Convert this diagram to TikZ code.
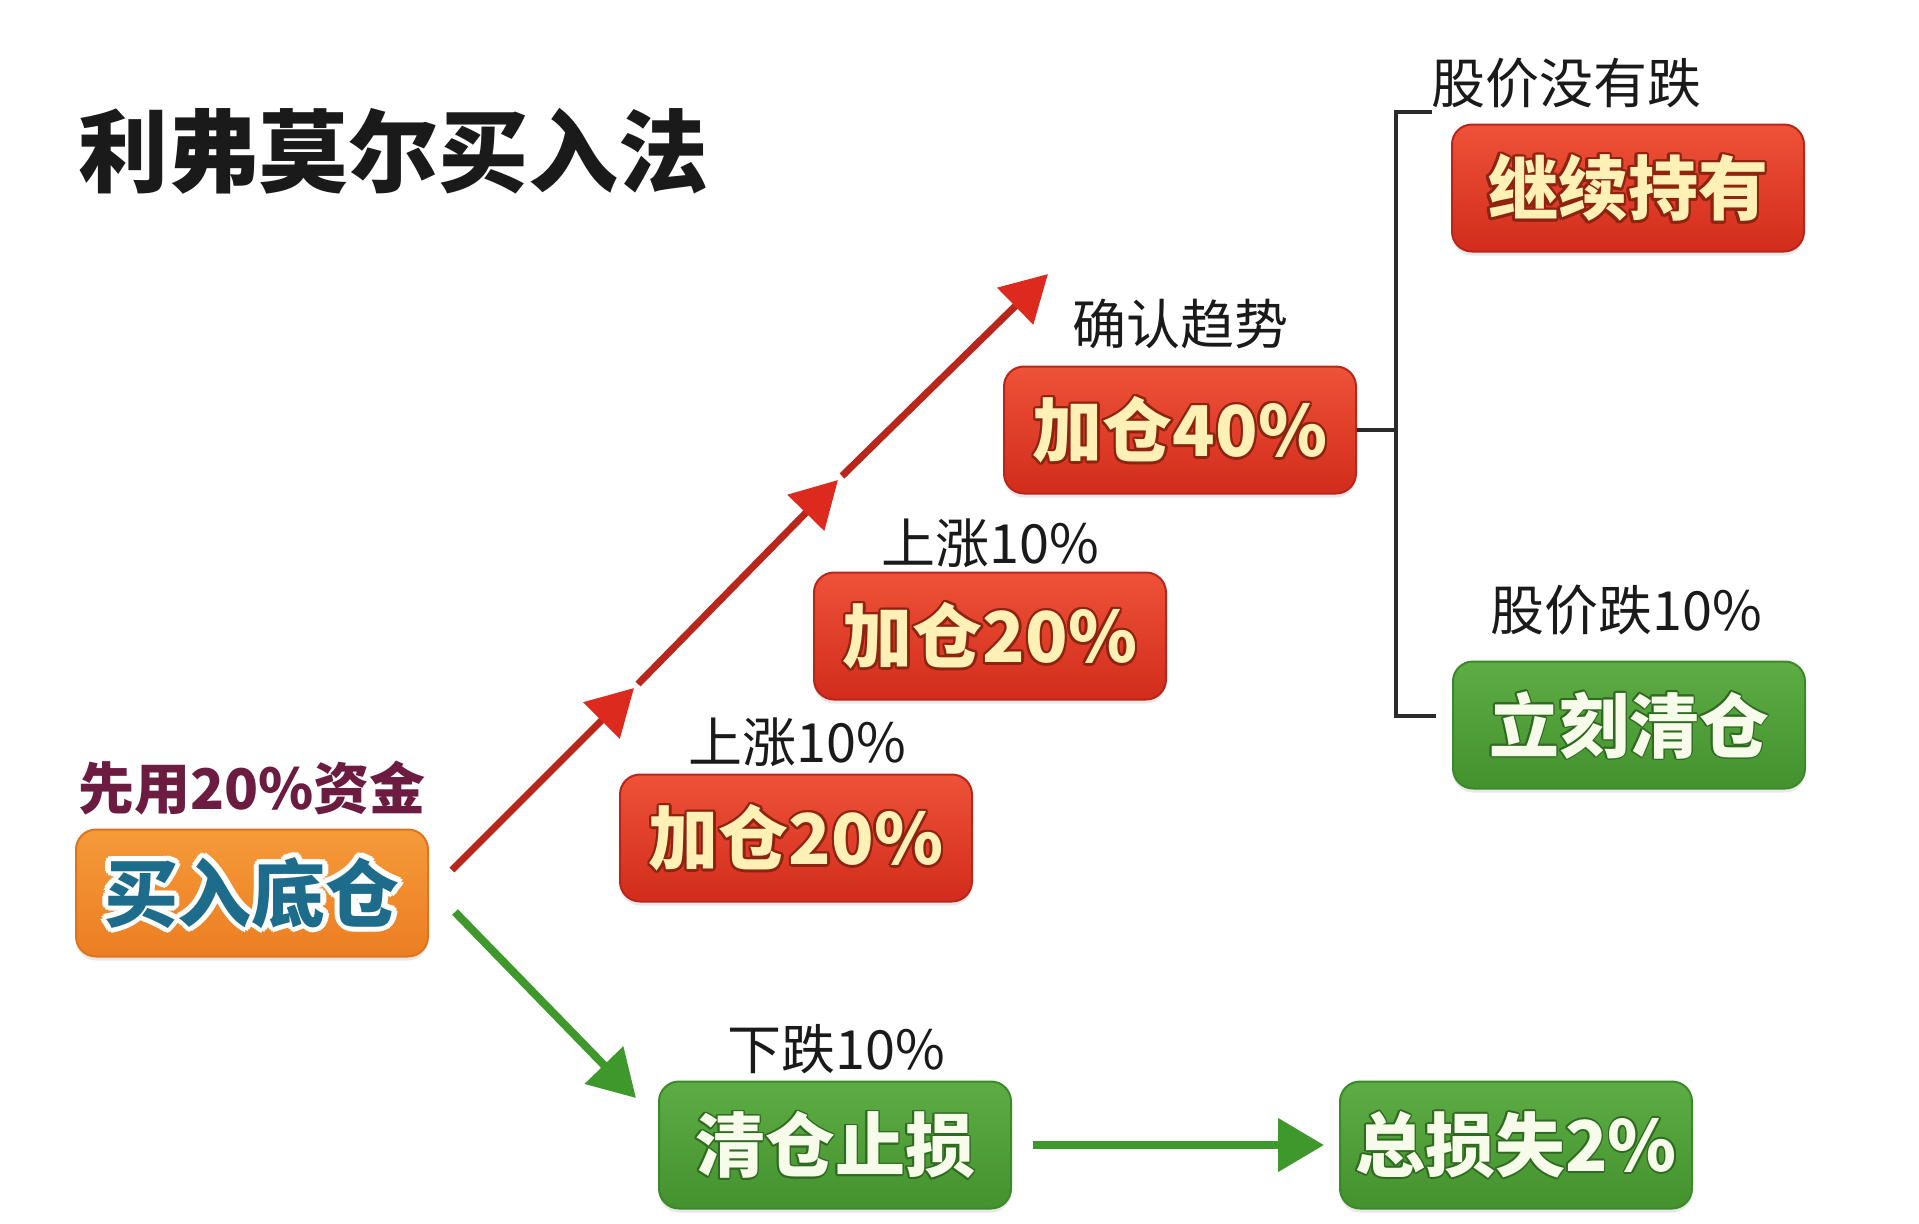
\documentclass[tikz,border=0pt]{standalone}
\usepackage{fontspec}
\newfontfamily\cjk{Noto Sans CJK SC}
\usetikzlibrary{arrows.meta,shadows}
\definecolor{boxredtop}{HTML}{EE5238}
\definecolor{boxredbot}{HTML}{D22C1C}
\definecolor{boxredline}{HTML}{B8261A}
\definecolor{cream}{HTML}{FFF1B5}
\definecolor{redshadow}{HTML}{8E2410}
\definecolor{greentop}{HTML}{5EAC44}
\definecolor{greenbot}{HTML}{44922E}
\definecolor{greenline}{HTML}{3A8A2A}
\definecolor{greenshadow}{HTML}{2E6A20}
\definecolor{greentext}{HTML}{F6FBEA}
\definecolor{orangetop}{HTML}{F59A3A}
\definecolor{orangebot}{HTML}{EC7E22}
\definecolor{orangeline}{HTML}{DE7420}
\definecolor{tealtext}{HTML}{1D6C8C}
\definecolor{maroon}{HTML}{6C1C40}
\definecolor{arrowred}{HTML}{B8261C}
\definecolor{tipred}{HTML}{DC2A1E}
\definecolor{arrowgreen}{HTML}{3E982C}
\definecolor{bracketgray}{HTML}{2A2A2A}
\definecolor{labelblack}{HTML}{1A1A1A}
% outlined text: #1 radius (pt), #2 outline colour, #3 text colour, #4 text
\newcommand\outl[4]{%
  \foreach \ang in {0,30,...,330}{%
    \pgfmathsetmacro\odx{#1*cos(\ang)}\pgfmathsetmacro\ody{#1*sin(\ang)}%
    \makebox[0pt][l]{\kern\odx pt\raisebox{\ody pt}{\color{#2}#4}}}%
  {\color{#3}#4}}
\tikzset{
  box/.style={rounded corners=10pt, minimum width=176pt, minimum height=63.5pt,
    inner sep=0pt, font=\cjk\bfseries\fontsize{35}{40}\selectfont,
    drop shadow={opacity=0.18,shadow xshift=0pt,shadow yshift=-2pt}},
  redbox/.style={box, top color=boxredtop, bottom color=boxredbot, draw=boxredline, line width=1pt},
  greenbox/.style={box, top color=greentop, bottom color=greenbot, draw=greenline, line width=1pt},
  orangebox/.style={box, top color=orangetop, bottom color=orangebot, draw=orangeline, line width=1pt},
  lbl/.style={font=\cjk\fontsize{27}{30}\selectfont, text=labelblack, inner sep=0pt},
  redarrow/.style={draw=arrowred, line width=3.5pt, -{Triangle[width=25pt,length=23pt,color=tipred]}},
  greenarrow/.style={draw=arrowgreen, line width=4pt, -{Triangle[width=26pt,length=23pt]}},
  bracketline/.style={draw=bracketgray, line width=2pt}
}
\begin{document}
\begin{tikzpicture}[x=0.5pt,y=-0.5pt]
\useasboundingbox[fill=white] (0,0) rectangle (1919,1223);

% title
\node[anchor=west, inner sep=0pt, font=\cjk\bfseries\fontsize{45}{50}\selectfont, text=labelblack] (title) at (78,151) {利弗莫尔买入法};

% boxes
\node[orangebox, font=\cjk\bfseries\fontsize{37}{42}\selectfont] (base) at (252,893) {\outl{2.6}{white}{tealtext}{买入底仓}};
\node[redbox] (r1) at (796,838) {\outl{1.2}{redshadow}{cream}{加仓20\%}};
\node[redbox] (r2) at (990,636) {\outl{1.2}{redshadow}{cream}{加仓20\%}};
\node[redbox] (r3) at (1180,430) {\outl{1.2}{redshadow}{cream}{加仓40\%}};
\node[redbox] (hold) at (1628,188) {\outl{1.2}{redshadow}{cream}{继续持有}};
\node[greenbox] (sell) at (1629,725) {\outl{0.8}{greenshadow}{greentext}{立刻清仓}};
\node[greenbox] (stop) at (835,1145) {\outl{0.8}{greenshadow}{greentext}{清仓止损}};
\node[greenbox] (loss) at (1516,1145) {\outl{0.8}{greenshadow}{greentext}{总损失2\%}};

% labels
\node[lbl, font=\cjk\bfseries\fontsize{28}{32}\selectfont, text=maroon] (l0) at (252,788) {先用20\%资金};
\node[lbl] (l1) at (797,742) {上涨10\%};
\node[lbl] (l2) at (990,543) {上涨10\%};
\node[lbl] (l3) at (1180,324) {确认趋势};
\node[lbl] (l4) at (1566,83) {股价没有跌};
\node[lbl] (l5) at (1626,610) {股价跌10\%};
\node[lbl] (l6) at (836,1049) {下跌10\%};

% red rising arrows
\coordinate (ra1s) at (452,870);
\coordinate (ra1e) at (634,688);
\coordinate (ra2s) at (638,684);
\coordinate (ra2e) at (838,480);
\coordinate (ra3s) at (842,476);
\coordinate (ra3e) at (1048,274);
\draw[redarrow] (ra1s) -- (ra1e);
\draw[redarrow] (ra2s) -- (ra2e);
\draw[redarrow] (ra3s) -- (ra3e);

% green arrows
\coordinate (ga1s) at (455,912);
\coordinate (ga1e) at (636,1098);
\draw[greenarrow] (ga1s) -- (ga1e);
\draw[greenarrow, shorten <=10.5pt, shorten >=7.5pt] (stop) -- (loss);

% bracket
\coordinate (bk1) at (1432,112);
\coordinate (bk2) at (1396,112);
\coordinate (bk3) at (1396,716);
\coordinate (bk4) at (1436,716);
\draw[bracketline] (bk1) -- (bk2) -- (bk3) -- (bk4);
\draw[bracketline] (r3.east) -- (r3.east -| bk2);
\end{tikzpicture}
\end{document}
